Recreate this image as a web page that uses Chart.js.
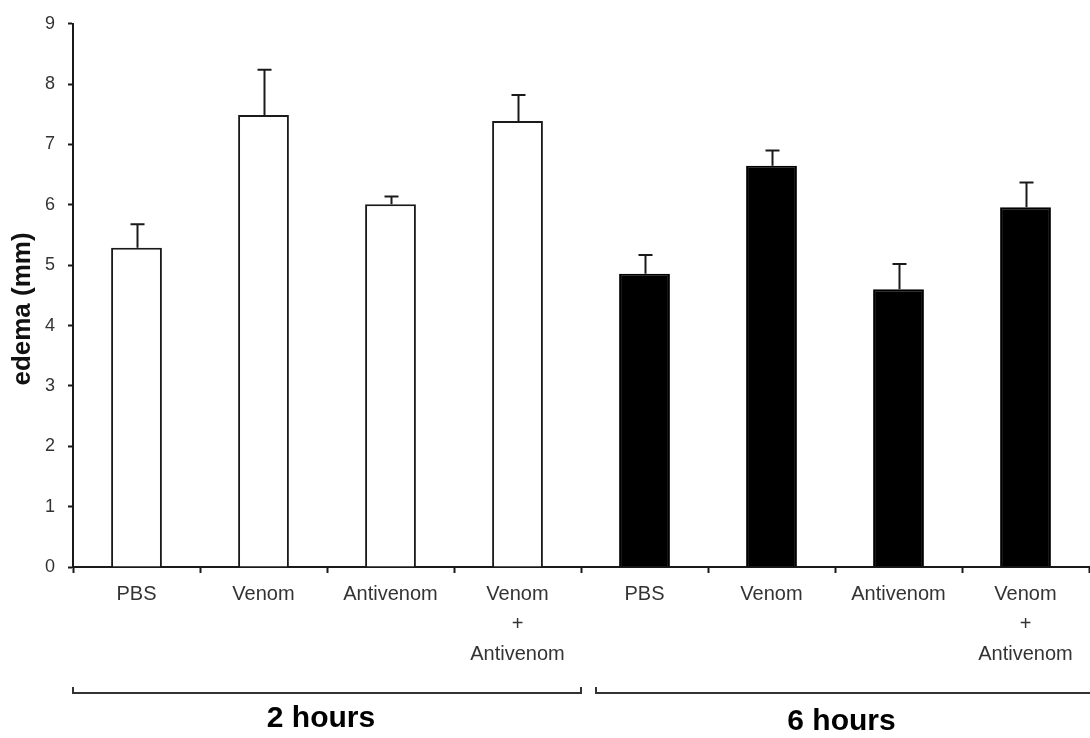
<!DOCTYPE html>
<html>
<head>
<meta charset="utf-8">
<script src="https://cdn.jsdelivr.net/npm/chart.js@4/dist/chart.umd.min.js"></script>
<style>
  html, body { margin: 0; padding: 0; background: #fff; }
  #wrap { width: 1090px; height: 738px; }
</style>
</head>
<body>
<div id="wrap"><canvas id="myChart"></canvas></div>
<script>
const labels = ["PBS", "Venom", "Antivenom", ["Venom", "+", "Antivenom"],
                "PBS", "Venom", "Antivenom", ["Venom", "+", "Antivenom"]];

// mean edema (mm) and upper error (SE)
const twoHours = [5.29, 7.49, 6.01, 7.39];
const twoHoursErr = [0.39, 0.75, 0.13, 0.43];
const sixHours = [4.86, 6.65, 4.60, 5.96];
const sixHoursErr = [0.31, 0.25, 0.42, 0.41];

const groupNames = ["2 hours", "6 hours"];
const yTitle = "edema (mm)";

const ink = "#1a1a1a";

const data = {
  labels: labels,
  datasets: [
    {
      label: "2 hours",
      data: [...twoHours, null, null, null, null],
      errors: [...twoHoursErr, null, null, null, null],
      backgroundColor: "#ffffff",
      borderColor: ink,
      borderWidth: 2,
    },
    {
      label: "6 hours",
      data: [null, null, null, null, ...sixHours],
      errors: [null, null, null, null, ...sixHoursErr],
      backgroundColor: "#000000",
      borderColor: "#000000",
      borderWidth: 2,
    },
  ],
};

// upward error bars with caps
const errorBars = {
  id: "errorBars",
  afterDatasetsDraw(chart) {
    const ctx = chart.ctx;
    const y = chart.scales.y;
    ctx.save();
    ctx.strokeStyle = ink;
    ctx.lineWidth = 2;
    chart.data.datasets.forEach((ds, i) => {
      const meta = chart.getDatasetMeta(i);
      meta.data.forEach((bar, j) => {
        if (ds.data[j] == null) return;
        const top = y.getPixelForValue(ds.data[j] + ds.errors[j]);
        const x = Math.round(bar.x) + 0.5;
        ctx.beginPath();
        ctx.moveTo(x, bar.y);
        ctx.lineTo(x, top);
        ctx.moveTo(x - 7, top);
        ctx.lineTo(x + 7, top);
        ctx.stroke();
      });
    });
    ctx.restore();
  }
};

// group brackets under the x axis, plus the y title
const groupLabels = {
  id: "groupLabels",
  afterDraw(chart) {
    const ctx = chart.ctx;
    const xs = chart.scales.x;
    const half = (xs.getPixelForValue(1) - xs.getPixelForValue(0)) / 2;
    const edge = (i) => xs.getPixelForValue(i) - half;
    const spans = [[edge(0), edge(4)], [edge(4) + 15, edge(8) + 10]];
    const by = 693;
    ctx.save();
    ctx.strokeStyle = "#333";
    ctx.lineWidth = 2;
    ctx.fillStyle = "#000";
    ctx.font = "bold 30px 'Liberation Sans', Arial, sans-serif";
    ctx.textAlign = "center";
    ctx.textBaseline = "middle";
    spans.forEach((s, i) => {
      ctx.beginPath();
      ctx.moveTo(s[0], by - 6);
      ctx.lineTo(s[0], by);
      ctx.lineTo(s[1], by);
      ctx.lineTo(s[1], by - 6);
      ctx.stroke();
      ctx.fillText(groupNames[i], (s[0] + s[1]) / 2 - 6, by + 26 + i * 3);
    });

    ctx.translate(23, 309);
    ctx.rotate(-Math.PI / 2);
    ctx.font = "bold 26px 'Liberation Sans', Arial, sans-serif";
    ctx.fillStyle = "#111";
    ctx.fillText(yTitle, 0, 0);
    ctx.restore();
  }
};

const config = {
  type: "bar",
  data: data,
  options: {
    responsive: true,
    maintainAspectRatio: false,
    animation: false,
    layout: {
      padding: { top: 19, right: 1, left: 0, bottom: 0 }
    },
    datasets: {
      bar: {
        grouped: false,
        barPercentage: 0.4,
        categoryPercentage: 1,
      }
    },
    plugins: {
      legend: false,
      tooltip: { enabled: false },
    },
    scales: {
      y: {
        min: 0,
        max: 9,
        ticks: {
          stepSize: 1,
          padding: 13,
          color: "#333",
          font: { family: "'Liberation Sans', Arial, sans-serif", size: 18 },
        },
        grid: {
          drawOnChartArea: false,
          tickLength: 5,
          tickWidth: 2,
          tickColor: ink,
        },
        border: { color: ink, width: 2 },
        afterFit(scale) { scale.width = 73; },
      },
      x: {
        ticks: {
          padding: 6,
          color: "#333",
          maxRotation: 0,
          autoSkip: false,
          font: { family: "'Liberation Sans', Arial, sans-serif", size: 20, lineHeight: 1.5 },
        },
        grid: {
          drawOnChartArea: false,
          tickLength: 6,
          tickWidth: 2,
          tickColor: ink,
        },
        border: { color: ink, width: 2 },
        afterFit(scale) { scale.height = 171; },
      },
    }
  },
  plugins: [errorBars, groupLabels],
};

const myChart = new Chart(document.getElementById("myChart"), config);
</script>
</body>
</html>
